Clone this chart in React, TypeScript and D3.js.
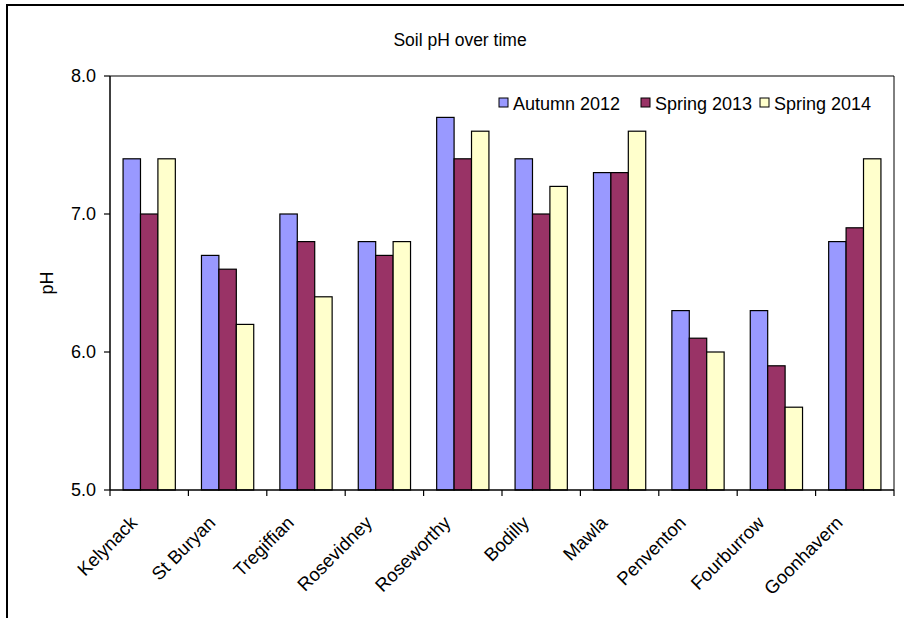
import React from "react";
import * as d3 from "d3";

// Soil sites and pH readings per sampling round
const sites = [
  "Kelynack",
  "St Buryan",
  "Tregiffian",
  "Rosevidney",
  "Roseworthy",
  "Bodilly",
  "Mawla",
  "Penventon",
  "Fourburrow",
  "Goonhavern",
];
const seriesNames = ["Autumn 2012", "Spring 2013", "Spring 2014"];
const autumn2012 = [7.4, 6.7, 7.0, 6.8, 7.7, 7.4, 7.3, 6.3, 6.3, 6.8];
const spring2013 = [7.0, 6.6, 6.8, 6.7, 7.4, 7.0, 7.3, 6.1, 5.9, 6.9];
const spring2014 = [7.4, 6.2, 6.4, 6.8, 7.6, 7.2, 7.6, 6.0, 5.6, 7.4];
const yTicks = [5.0, 6.0, 7.0, 8.0];
const seriesColors = ["#9999FF", "#993366", "#FFFFCC"];

const W = 904;
const H = 618;
const plot = { left: 110, right: 894, top: 76, bottom: 490 };
const FONT = "'Liberation Sans', Arial, sans-serif";

export default function App() {
  const series = [autumn2012, spring2013, spring2014];

  const x = d3
    .scaleBand<string>()
    .domain(sites)
    .range([plot.left, plot.right])
    .paddingInner(0)
    .paddingOuter(0);

  const band = x.bandwidth();
  // 150% gap: three bars plus 1.5 bar widths fill one category
  const barW = band / 4.5;
  const groupOffset = (band - 3 * barW) / 2;

  const y = d3.scaleLinear().domain([5, 8]).range([plot.bottom, plot.top]);

  const boundaries = sites.map((s) => x(s) as number).concat([plot.right]);

  const legendStarts = [499, 641, 760];

  return (
    <svg
      width={W}
      height={H}
      style={{ position: "absolute", left: 0, top: 0, background: "#fff" }}
      fontFamily={FONT}
    >
      <rect x={0} y={0} width={W} height={H} fill="#fff" />
      {/* chart frame */}
      <rect x={7} y={5} width={W + 20} height={H + 20} fill="none" stroke="#000" strokeWidth={2} />

      {/* title */}
      <text x={460} y={46} textAnchor="middle" fontSize={17.5} fill="#000">
        Soil pH over time
      </text>

      {/* bars */}
      {sites.map((s, i) => (
        <g key={s}>
          {series.map((vals, k) => (
            <rect
              key={k}
              x={(x(s) as number) + groupOffset + k * barW}
              y={y(vals[i])}
              width={barW}
              height={y(5) - y(vals[i])}
              fill={seriesColors[k]}
              stroke="#000"
              strokeWidth={1.2}
            />
          ))}
        </g>
      ))}

      {/* plot area border: top and right */}
      <line x1={plot.left} x2={plot.right} y1={plot.top} y2={plot.top} stroke="#000" strokeWidth={1.2} />
      <line x1={plot.right} x2={plot.right} y1={plot.top} y2={plot.bottom} stroke="#000" strokeWidth={1} />

      {/* y axis */}
      <line x1={plot.left} x2={plot.left} y1={plot.top} y2={plot.bottom} stroke="#000" strokeWidth={1.5} />
      {yTicks.map((t) => (
        <g key={t}>
          <line x1={plot.left - 6} x2={plot.left} y1={y(t)} y2={y(t)} stroke="#000" strokeWidth={1.2} />
          <text x={plot.left - 14} y={y(t)} dy="0.35em" textAnchor="end" fontSize={18} fill="#000">
            {t.toFixed(1)}
          </text>
        </g>
      ))}
      <text
        transform={`translate(53,${(plot.top + plot.bottom) / 2}) rotate(-90)`}
        textAnchor="middle"
        fontSize={18}
        fill="#000"
      >
        pH
      </text>

      {/* x axis */}
      <line x1={plot.left} x2={plot.right} y1={plot.bottom} y2={plot.bottom} stroke="#000" strokeWidth={1.5} />
      {boundaries.map((bx, i) => (
        <line key={i} x1={bx} x2={bx} y1={plot.bottom} y2={plot.bottom + 6} stroke="#000" strokeWidth={1.2} />
      ))}
      {sites.map((s) => {
        const cx = (x(s) as number) + band / 2;
        return (
          <text
            key={s}
            transform={`translate(${cx - 11},${plot.bottom + 34}) rotate(-45)`}
            textAnchor="end"
            fontSize={18.5}
            fill="#000"
          >
            {s}
          </text>
        );
      })}

      {/* legend */}
      {seriesNames.map((name, k) => (
        <g key={name}>
          <rect
            x={legendStarts[k]}
            y={98}
            width={9}
            height={9}
            fill={seriesColors[k]}
            stroke="#000"
            strokeWidth={1}
          />
          <text x={legendStarts[k] + 14} y={110} fontSize={18} fill="#000">
            {name}
          </text>
        </g>
      ))}
    </svg>
  );
}
